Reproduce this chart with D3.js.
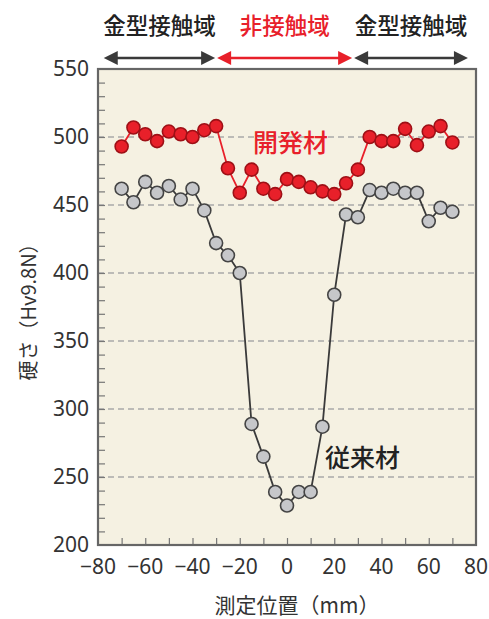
<!DOCTYPE html>
<html><head><meta charset="utf-8">
<script src="https://cdn.jsdelivr.net/npm/d3@7"></script>
<style>body{margin:0;background:#fff}svg{display:block}</style>
</head><body>
<script>
const positions = [-70,-65,-60,-55,-50,-45,-40,-35,-30,-25,-20,-15,-10,-5,0,5,10,15,20,25,30,35,40,45,50,55,60,65,70];
const developed = [493,507,502,497,504,502,500,505,508,477,459,476,462,458,469,467,463,460,458,466,476,500,497,497,506,494,504,508,496];
const conventional = [462,452,467,459,464,454,462,446,422,413,400,289,265,239,229,239,239,287,384,443,441,461,459,462,459,459,438,448,445];
const xTicks = [-80,-60,-40,-20,0,20,40,60,80];
const yTicks = [200,250,300,350,400,450,500,550];
const gridValues = [250,300,350,400,450,500];
const zones = [
  {label:"金型接触域", from:-78, to:-30, color:"#3a3a3a"},
  {label:"非接触域", from:-30, to:28, color:"#e8202a"},
  {label:"金型接触域", from:28, to:77, color:"#3a3a3a"}
];

const W=489,H=619;
const m={left:98,right:13,top:69,bottom:74};
const svg=d3.select("body").append("svg").attr("width",W).attr("height",H);
const x=d3.scaleLinear().domain([-80,80]).range([m.left,W-m.right]);
const y=d3.scaleLinear().domain([200,550]).range([H-m.bottom,m.top]);
const numFont="'Noto Sans', 'Open Sans', sans-serif";
const jpFont="'Noto Sans CJK JP', sans-serif";

// background
svg.append("rect").attr("x",x(-80)).attr("y",y(550)).attr("width",x(80)-x(-80)).attr("height",y(200)-y(550)).attr("fill","#f5f1e2");

// grid
svg.append("g").selectAll("line").data(gridValues).join("line")
  .attr("x1",x(-80)).attr("x2",x(80)).attr("y1",d=>y(d)).attr("y2",d=>y(d))
  .attr("stroke","#a9a9a9").attr("stroke-width",1.5).attr("stroke-dasharray","6,4");

// axes ticks (inner)
const xAxis=d3.axisTop(x).tickValues(d3.range(-70,80,10)).tickSize(7).tickFormat("");
const gx=svg.append("g").attr("transform",`translate(0,${y(200)})`).call(xAxis);
gx.select(".domain").remove();
gx.selectAll("line").attr("stroke","#777").attr("stroke-width",1.2);
const yAxis=d3.axisRight(y).tickValues(d3.range(210,550,10)).tickSize(7).tickFormat("");
const gy=svg.append("g").attr("transform",`translate(${x(-80)},0)`).call(yAxis);
gy.select(".domain").remove();
gy.selectAll("line").attr("stroke","#777").attr("stroke-width",1.2);

// frame
svg.append("rect").attr("x",x(-80)).attr("y",y(550)).attr("width",x(80)-x(-80)).attr("height",y(200)-y(550))
  .attr("fill","none").attr("stroke","#666").attr("stroke-width",2.2);

// tick labels
svg.append("g").selectAll("text").data(xTicks).join("text")
  .attr("x",d=>x(d)).attr("y",y(200)+29).attr("text-anchor","middle")
  .attr("font-family",numFont).attr("font-size",21).attr("fill","#333")
  .text(d=>d<0?"\u2212"+Math.abs(d):d);
svg.append("g").selectAll("text").data(yTicks).join("text")
  .attr("x",x(-80)-9).attr("y",d=>y(d)+7).attr("text-anchor","end")
  .attr("font-family",numFont).attr("font-size",21).attr("fill","#333")
  .text(d=>d);

// axis titles
svg.append("text").attr("transform",`translate(36,${(y(200)+y(550))/2}) rotate(-90)`)
  .attr("text-anchor","middle").attr("font-family",jpFont).attr("font-size",20).attr("fill","#333")
  .text("硬さ（Hv9.8N）");
svg.append("text").attr("x",x(0)+10).attr("y",613).attr("text-anchor","middle")
  .attr("font-family",jpFont).attr("font-size",21).attr("fill","#333")
  .text("測定位置（mm）");

// lines and points
const line=d3.line().x(d=>x(d[0])).y(d=>y(d[1]));
function series(vals,lineColor,fill,stroke){
  const pts=positions.map((p,i)=>[p,vals[i]]);
  svg.append("path").datum(pts).attr("d",line).attr("fill","none").attr("stroke",lineColor).attr("stroke-width",1.8);
  svg.append("g").selectAll("circle").data(pts).join("circle")
    .attr("cx",d=>x(d[0])).attr("cy",d=>y(d[1])).attr("r",6.5)
    .attr("fill",fill).attr("stroke",stroke).attr("stroke-width",1.6);
}
series(conventional,"#3a3a3a","#c6c7ca","#444");
series(developed,"#e8202a","#e8202a","#9e1016");

// series labels
svg.append("text").attr("x",253).attr("y",152).attr("font-family",jpFont).attr("font-weight",500).attr("font-size",25).attr("fill","#e8202a").text("開発材");
svg.append("text").attr("x",325).attr("y",467).attr("font-family",jpFont).attr("font-weight",500).attr("font-size",25).attr("fill","#222").text("従来材");

// zone arrows
const ay=58;
zones.forEach(z=>{
  const x1=x(z.from)+1, x2=x(z.to)-1, ah=14, hw=7;
  svg.append("line").attr("x1",x1+ah-2).attr("x2",x2-ah+2).attr("y1",ay).attr("y2",ay).attr("stroke",z.color).attr("stroke-width",2.5);
  svg.append("path").attr("d",`M${x1},${ay}L${x1+ah},${ay-hw}L${x1+ah},${ay+hw}Z`).attr("fill",z.color);
  svg.append("path").attr("d",`M${x2},${ay}L${x2-ah},${ay-hw}L${x2-ah},${ay+hw}Z`).attr("fill",z.color);
  svg.append("text").attr("x",(x1+x2)/2).attr("y",34).attr("text-anchor","middle")
    .attr("font-family",jpFont).attr("font-weight",500).attr("font-size",22.5).attr("fill",z.color==="#e8202a"?"#e8202a":"#222").text(z.label);
});
</script>
</body></html>
